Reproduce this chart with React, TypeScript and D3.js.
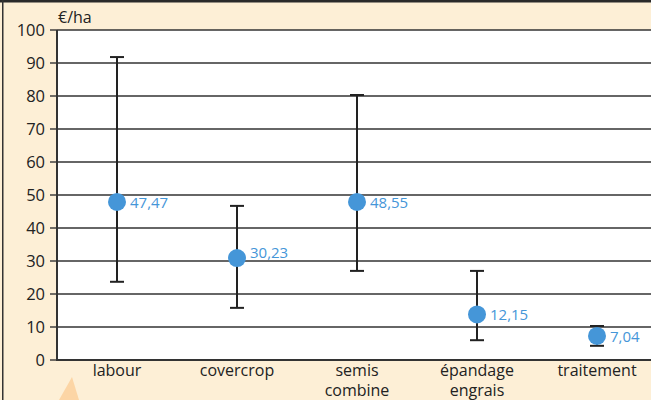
import React from "react";
import * as d3 from "d3";

const categories = [["labour"], ["covercrop"], ["semis", "combine"], ["épandage", "engrais"], ["traitement"]];
const means = [47.9, 30.9, 47.9, 13.8, 7.3];
const meanLabels = ["47,47", "30,23", "48,55", "12,15", "7,04"];
const labelShift = [0, -6, 0, 0, 0];
const lows = [23.7, 15.8, 27, 6, 4.3];
const highs = [91.8, 46.7, 80.3, 27, 10.3];
const yTicks = [0, 10, 20, 30, 40, 50, 60, 70, 80, 90, 100];

const W = 651, H = 400;
const font = "'Open Sans', Lato, sans-serif";

export default function App() {
  const x = d3.scaleBand<number>().domain(d3.range(5)).range([57, 657]);
  const y = d3.scaleLinear().domain([0, 100]).range([360, 30]);
  const cx = (i: number) => (x(i) as number) + x.bandwidth() / 2;
  return (
    <svg width={W} height={H} style={{ position: "absolute", left: 0, top: 0 }}>
      <rect x={0} y={0} width={W} height={H} fill="#fdefd6" />
      <rect x={0} y={0} width={W} height={2.5} fill="#2a2a2a" />
      <rect x={2} y={0} width={1.5} height={H} fill="#333" />
      <polygon points="59,400 72,377 79,400" fill="#fcd5a5" />
      <rect x={57} y={y(100)} width={W - 57} height={y(0) - y(100)} fill="#fff" />
      {yTicks.map((t) => (
        <g key={t}>
          {t > 0 && <line x1={57} x2={W} y1={y(t)} y2={y(t)} stroke="#333" strokeWidth={1.4} />}
          <line x1={50} x2={57} y1={y(t)} y2={y(t)} stroke="#333" strokeWidth={1.4} />
          <text x={45} y={y(t)} dy="0.36em" textAnchor="end" fontFamily={font} fontSize={16.5} fill="#222">{t}</text>
        </g>
      ))}
      <line x1={57} x2={57} y1={y(100)} y2={y(0) + 1} stroke="#333" strokeWidth={2} />
      <line x1={56} x2={W} y1={y(0)} y2={y(0)} stroke="#333" strokeWidth={2} />
      <text x={58} y={23} fontFamily={font} fontSize={16} fill="#222">€/ha</text>
      {categories.map((c, i) => (
        <g key={i}>
          <line x1={cx(i)} x2={cx(i)} y1={y(highs[i])} y2={y(lows[i])} stroke="#222" strokeWidth={2} />
          <line x1={cx(i) - 7} x2={cx(i) + 7} y1={y(highs[i])} y2={y(highs[i])} stroke="#222" strokeWidth={2} />
          <line x1={cx(i) - 7} x2={cx(i) + 7} y1={y(lows[i])} y2={y(lows[i])} stroke="#222" strokeWidth={2} />
          <circle cx={cx(i)} cy={y(means[i])} r={9} fill="#4596d8" />
          <text x={cx(i) + 13} y={y(means[i]) + labelShift[i]} dy="0.38em" fontFamily={font} fontSize={15} fill="#4596d8">{meanLabels[i]}</text>
          {c.map((line, j) => (
            <text key={j} x={cx(i)} y={376 + j * 19.5} textAnchor="middle" fontFamily={font} fontSize={16} fill="#222">{line}</text>
          ))}
        </g>
      ))}
    </svg>
  );
}
